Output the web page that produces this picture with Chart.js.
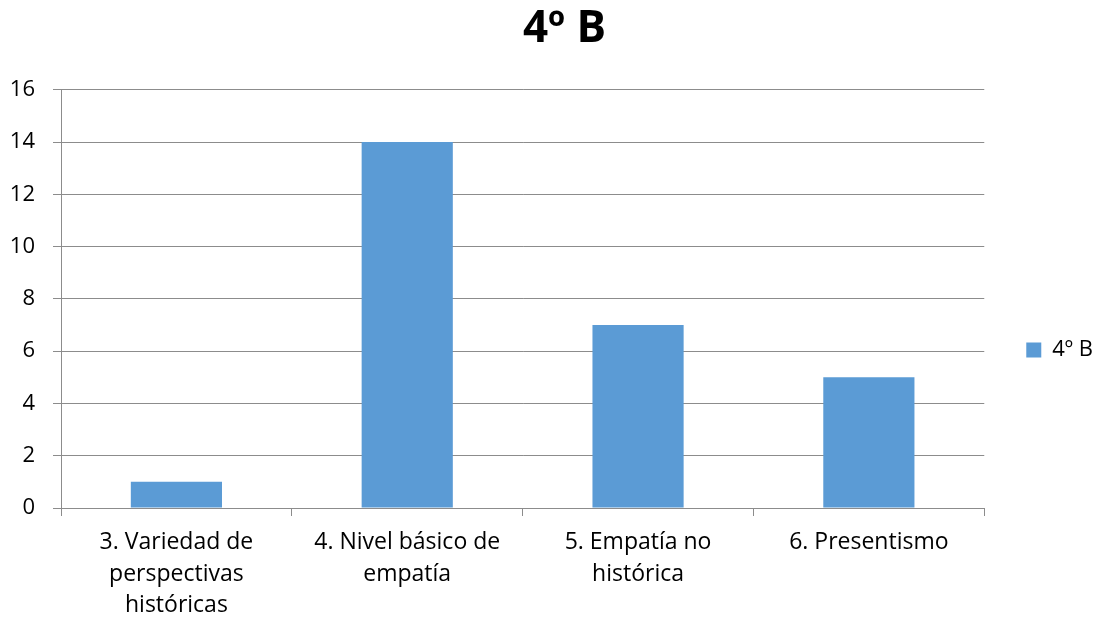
<!DOCTYPE html>
<html>
<head>
<meta charset="utf-8">
<script src="https://cdn.jsdelivr.net/npm/chart.js"></script>
<style>
	html, body { margin: 0; padding: 0; background: #fff; }
	#wrap { width: 1108px; height: 618px; }
</style>
</head>
<body>
<div id="wrap"><canvas id="myChart"></canvas></div>
<script>
// datos del gráfico
var categorias = [
	['3. Variedad de', 'perspectivas', 'históricas'],
	['4. Nivel básico de', 'empatía'],
	['5. Empatía no', 'histórica'],
	['6. Presentismo']
];
var valores = [1, 14, 7, 5];
var serieNombre = '4º B';
var tituloTexto = '4º B';
var yMin = 0, yMax = 16, yPaso = 2;

var fuente = "'Open Sans', 'Noto Sans', sans-serif";

// mueve la leyenda y el título a la posición del original
var moverLeyenda = {
	id: 'moverLeyenda',
	afterLayout: function(chart) {
		var lg = chart.legend;
		var area = chart.chartArea;
		if (!lg || !area) return;
		var dx = (area.right + 32) - lg.left;
		var target = area.top + (area.bottom - area.top) * 0.622;
		var dy = target - (lg.top + lg.bottom) / 2;
		lg.left += dx; lg.right += dx;
		lg.top += dy; lg.bottom += dy;
		if (chart.titleBlock) {
			chart.titleBlock.left += 24;
			chart.titleBlock.right += 24;
		}
	}
};

const ctx = document.getElementById('myChart');

var myChart = new Chart(ctx, {
	type: 'bar',
	data: {
		labels: categorias,
		datasets: [{
			label: serieNombre,
			data: valores,
			backgroundColor: '#5B9BD5',
			borderWidth: 0,
			categoryPercentage: 1,
			barPercentage: 0.395
		}]
	},
	options: {
		responsive: true,
		maintainAspectRatio: false,
		animation: false,
		layout: {
			padding: { left: 10, right: 37, top: 0, bottom: 0 }
		},
		plugins: {
			title: {
				display: true,
				text: tituloTexto,
				color: '#000',
				font: { family: fuente, size: 44, weight: 'bold', lineHeight: 1.2 },
				padding: { top: 3, bottom: 34 }
			},
			legend: {
				position: 'right',
				labels: {
					boxWidth: 15,
					boxHeight: 15,
					color: '#000',
					font: { family: fuente, size: 22 },
					padding: 10
				}
			},
			tooltip: { enabled: false }
		},
		scales: {
			x: {
				offset: true,
				grid: {
					display: true,
					offset: true,
					drawOnChartArea: false,
					color: '#8c8c8c',
					tickLength: 8
				},
				border: { color: '#8c8c8c', width: 1 },
				ticks: {
					color: '#000',
					font: { family: fuente, size: 23, lineHeight: 1.37 },
					padding: 11,
					maxRotation: 0,
					autoSkip: false
				},
				afterFit: function(scale) {
					scale.paddingLeft = 0;
					scale.paddingRight = 0;
					scale.height = 110; // alto del eje como en el original
				}
			},
			y: {
				min: yMin,
				max: yMax,
				grid: {
					color: '#8c8c8c',
					tickLength: 8
				},
				border: { color: '#8c8c8c', width: 1 },
				ticks: {
					stepSize: yPaso,
					color: '#000',
					font: { family: fuente, size: 22 },
					padding: 18
				},
				afterFit: function(scale) {
					scale.width = 51; // ancho del eje como en el original
				}
			}
		}
	},
	plugins: [moverLeyenda]
});
</script>
</body>
</html>
